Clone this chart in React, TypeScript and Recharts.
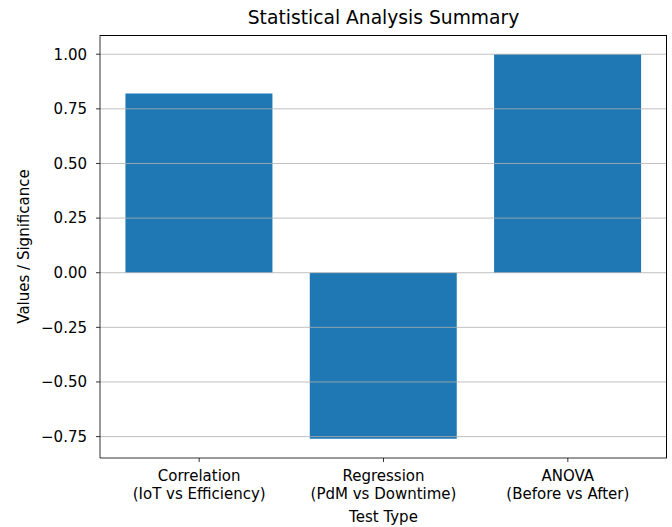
import React from 'react';
import { BarChart, Bar, XAxis, YAxis, ReferenceLine } from 'recharts';

const categories = ['Correlation\n(IoT vs Efficiency)', 'Regression\n(PdM vs Downtime)', 'ANOVA\n(Before vs After)'];
const values = [0.82, -0.76, 1.0];
const yTicks = [-0.75, -0.5, -0.25, 0, 0.25, 0.5, 0.75, 1.0];

const data = categories.map((c, i) => ({ name: c, value: values[i] }));

const FONT = 'DejaVu Sans, sans-serif';
const FS = 15;

const fmt = (v: number) => {
  const s = Math.abs(v).toFixed(2);
  return v < 0 ? '\u2212' + s : s;
};

const XTick = (props: any) => {
  const { x, y, payload } = props;
  const lines = String(payload.value).split('\n');
  return (
    <g transform={`translate(${x},${y})`}>
      <text textAnchor="middle" fill="#000" fontSize={FS} fontFamily={FONT}>
        {lines.map((l, i) => (
          <tspan key={i} x={0} dy={i === 0 ? 17 : 18}>{l}</tspan>
        ))}
      </text>
    </g>
  );
};

export default function App() {
  return (
    <div style={{ position: 'absolute', left: 0, top: 0, width: 672, height: 527, background: '#fff' }}>
      <div style={{ position: 'absolute', left: 100, width: 567, top: 7, textAlign: 'center', fontFamily: FONT, fontSize: 18.7, color: '#000', lineHeight: '22px' }}>
        Statistical Analysis Summary
      </div>
      <BarChart width={672} height={527} data={data} margin={{ top: 35, right: 5, bottom: 0, left: 0 }} barCategoryGap="10%">
        <XAxis
          dataKey="name"
          interval={0}
          height={69}
          padding={{ left: 7, right: 7 }}
          tick={<XTick />}
          tickSize={4}
          tickLine={{ stroke: '#000', strokeWidth: 0.8 }}
          axisLine={{ stroke: '#000', strokeWidth: 0.8 }}
          label={{ value: 'Test Type', position: 'insideBottom', offset: 5, fill: '#000', fontSize: FS, fontFamily: FONT }}
        />
        <YAxis
          domain={[-0.848, 1.088]}
          ticks={yTicks}
          type="number"
          width={100}
          tickFormatter={fmt}
          tickSize={4}
          tickMargin={9}
          tick={{ fill: '#000', fontSize: FS, fontFamily: FONT }}
          tickLine={{ stroke: '#000', strokeWidth: 0.8 }}
          axisLine={{ stroke: '#000', strokeWidth: 0.8 }}
          label={{ value: 'Values / Significance', angle: -90, position: 'insideLeft', offset: 24, fill: '#000', fontSize: FS, fontFamily: FONT, style: { textAnchor: 'middle' } }}
        />
        <Bar dataKey="value" fill="#1f77b4" isAnimationActive={false} />
        {yTicks.map((t) => (
          <ReferenceLine key={t} y={t} stroke="#b0b0b0" strokeWidth={0.8} />
        ))}
      </BarChart>
      <div style={{ position: 'absolute', left: 100, top: 35, width: 567, height: 423, borderTop: '1px solid #000', borderRight: '1px solid #000', boxSizing: 'border-box', pointerEvents: 'none' }} />
    </div>
  );
}
